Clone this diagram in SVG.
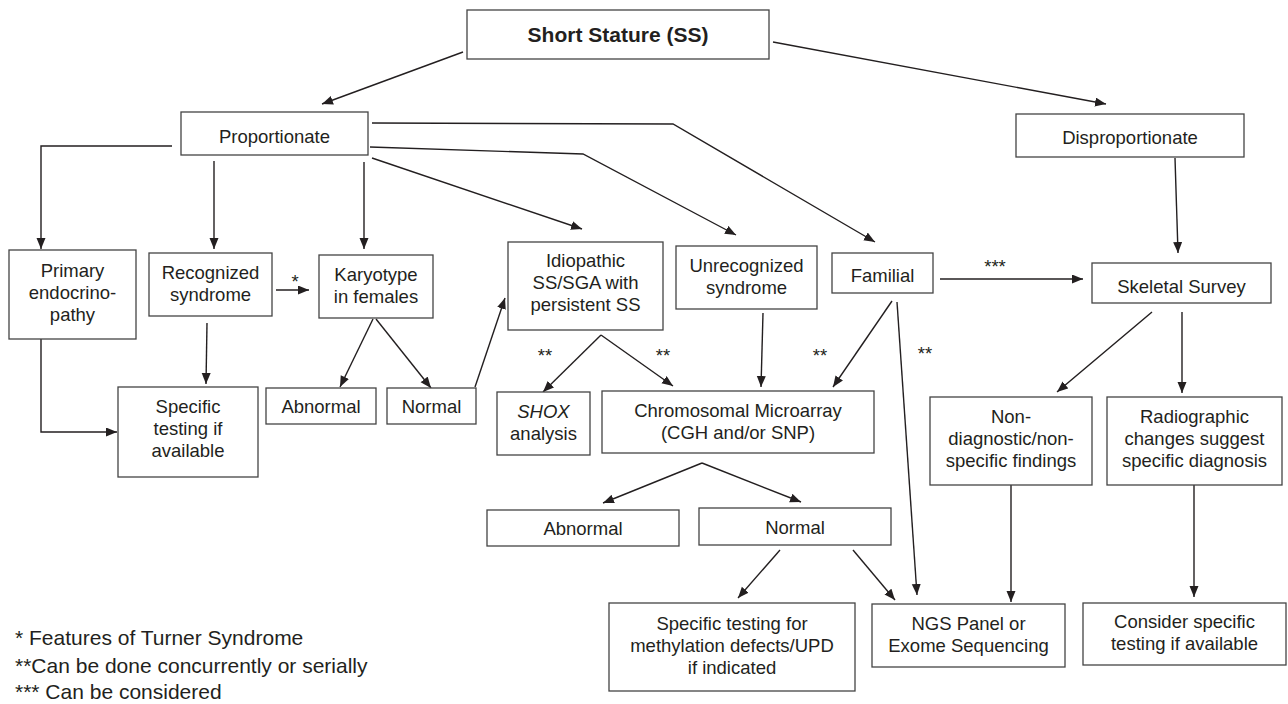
<svg xmlns="http://www.w3.org/2000/svg" width="1288" height="704" viewBox="0 0 1288 704">
<style>
.box{fill:#fff;stroke:#444;stroke-width:1.3}
.t{font-family:"Liberation Sans",Arial,sans-serif;font-size:18.5px;fill:#231f20;text-anchor:middle}
.b{font-weight:bold;font-size:21px}
.i{font-style:italic}
.lg{font-family:"Liberation Sans",Arial,sans-serif;font-size:21px;fill:#231f20}
.c path{fill:none;stroke:#231f20;stroke-width:1.4;marker-end:url(#ah)}
</style>
<defs>
<marker id="ah" markerUnits="userSpaceOnUse" markerWidth="12" markerHeight="10" refX="11" refY="4.5" orient="auto">
<path d="M0,0 L11,4.5 L0,9 z" fill="#231f20"/>
</marker>
</defs>
<rect width="1288" height="704" fill="#fff"/>
<g id="connectors" class="c">
<path d="M463,52 L322,104"/>
<path d="M773,42 L1106,104"/>
<path d="M172,146 H41 V249"/>
<path d="M214,161 V249"/>
<path d="M364,162 V249"/>
<path d="M372,158 L582,229"/>
<path d="M370,147 L583,154 L736,235"/>
<path d="M372,123 L673,124 L875,242"/>
<path d="M1175,158 L1178,253"/>
<path d="M276,290 L309,290"/>
<path d="M373,319 L340,387"/>
<path d="M376,319 L431,388"/>
<path d="M475,387 L505,298"/>
<path d="M207,323 L206,384"/>
<path d="M41,339 V432 H117"/>
<path d="M601,335 L543,392"/>
<path d="M601,335 L673,386"/>
<path d="M763,313 L761,387"/>
<path d="M892,301 L833,387"/>
<path d="M897,302 L917,595"/>
<path d="M940,279 L1083,279"/>
<path d="M1152,312 L1057,392"/>
<path d="M1182,312 L1182,393"/>
<path d="M1011,485 V602"/>
<path d="M1194,485 V597"/>
<path d="M702,463 L603,503"/>
<path d="M702,463 L801,502"/>
<path d="M780,550 L738,598"/>
<path d="M853,550 L895,600"/>
</g>
<g id="labels">
<text class="t" x="295" y="288">*</text>
<text class="t" x="545" y="362">**</text>
<text class="t" x="663" y="362">**</text>
<text class="t" x="820" y="362">**</text>
<text class="t" x="925" y="360">**</text>
<text class="t" x="995" y="273">***</text>
</g>
<g id="ss"><rect class="box" x="467" y="10" width="302" height="49"/><text class="t b" x="618" y="42">Short Stature (SS)</text></g>
<g id="prop"><rect class="box" x="181" y="112" width="187" height="43"/><text class="t" x="274.5" y="143">Proportionate</text></g>
<g id="disp"><rect class="box" x="1016" y="114" width="228" height="43"/><text class="t" x="1130" y="144">Disproportionate</text></g>
<g id="primary"><rect class="box" x="9" y="250" width="127" height="89"/><text class="t" x="72.5" y="277">Primary</text><text class="t" x="72.5" y="299">endocrino-</text><text class="t" x="72.5" y="321">pathy</text></g>
<g id="recog"><rect class="box" x="149" y="253" width="123" height="63"/><text class="t" x="210.5" y="279">Recognized</text><text class="t" x="210.5" y="301">syndrome</text></g>
<g id="karyo"><rect class="box" x="319" y="255" width="114" height="63"/><text class="t" x="376" y="281">Karyotype</text><text class="t" x="376" y="303">in females</text></g>
<g id="idio"><rect class="box" x="508" y="242" width="155" height="88"/><text class="t" x="585.5" y="267">Idiopathic</text><text class="t" x="585.5" y="289">SS/SGA with</text><text class="t" x="585.5" y="311">persistent SS</text></g>
<g id="unrec"><rect class="box" x="676" y="246" width="141" height="63"/><text class="t" x="746.5" y="272">Unrecognized</text><text class="t" x="746.5" y="294">syndrome</text></g>
<g id="fam"><rect class="box" x="832" y="253" width="101" height="40"/><text class="t" x="882.5" y="282">Familial</text></g>
<g id="skel"><rect class="box" x="1092" y="263" width="179" height="40"/><text class="t" x="1181.5" y="293">Skeletal Survey</text></g>
<g id="abn1"><rect class="box" x="266" y="388" width="110" height="36"/><text class="t" x="321" y="413">Abnormal</text></g>
<g id="norm1"><rect class="box" x="387" y="388" width="89" height="36"/><text class="t" x="431.5" y="413">Normal</text></g>
<g id="spec1"><rect class="box" x="118" y="387" width="140" height="90"/><text class="t" x="188" y="413">Specific</text><text class="t" x="188" y="435">testing if</text><text class="t" x="188" y="457">available</text></g>
<g id="shox"><rect class="box" x="497" y="392" width="93" height="63"/><text class="t i" x="543.5" y="418">SHOX</text><text class="t" x="543.5" y="440">analysis</text></g>
<g id="cma"><rect class="box" x="602" y="391" width="272" height="62"/><text class="t" x="738" y="417">Chromosomal Microarray</text><text class="t" x="738" y="439">(CGH and/or SNP)</text></g>
<g id="nondiag"><rect class="box" x="930" y="397" width="162" height="88"/><text class="t" x="1011" y="423">Non-</text><text class="t" x="1011" y="445">diagnostic/non-</text><text class="t" x="1011" y="467">specific findings</text></g>
<g id="radio"><rect class="box" x="1107" y="397" width="175" height="88"/><text class="t" x="1194.5" y="423">Radiographic</text><text class="t" x="1194.5" y="445">changes suggest</text><text class="t" x="1194.5" y="467">specific diagnosis</text></g>
<g id="abn2"><rect class="box" x="487" y="510" width="192" height="36"/><text class="t" x="583" y="535">Abnormal</text></g>
<g id="norm2"><rect class="box" x="699" y="508" width="192" height="37"/><text class="t" x="795" y="534">Normal</text></g>
<g id="meth"><rect class="box" x="609" y="603" width="246" height="88"/><text class="t" x="732" y="630">Specific testing for</text><text class="t" x="732" y="652">methylation defects/UPD</text><text class="t" x="732" y="674">if indicated</text></g>
<g id="ngs"><rect class="box" x="872" y="604" width="193" height="63"/><text class="t" x="968.5" y="630">NGS Panel or</text><text class="t" x="968.5" y="652">Exome Sequencing</text></g>
<g id="consider"><rect class="box" x="1083" y="603" width="203" height="62"/><text class="t" x="1184.5" y="628">Consider specific</text><text class="t" x="1184.5" y="650">testing if available</text></g>
<g id="legend">
<text class="lg" x="15" y="645">* Features of Turner Syndrome</text>
<text class="lg" x="15" y="673">**Can be done concurrently or serially</text>
<text class="lg" x="15" y="699">*** Can be considered</text>
</g>
</svg>
